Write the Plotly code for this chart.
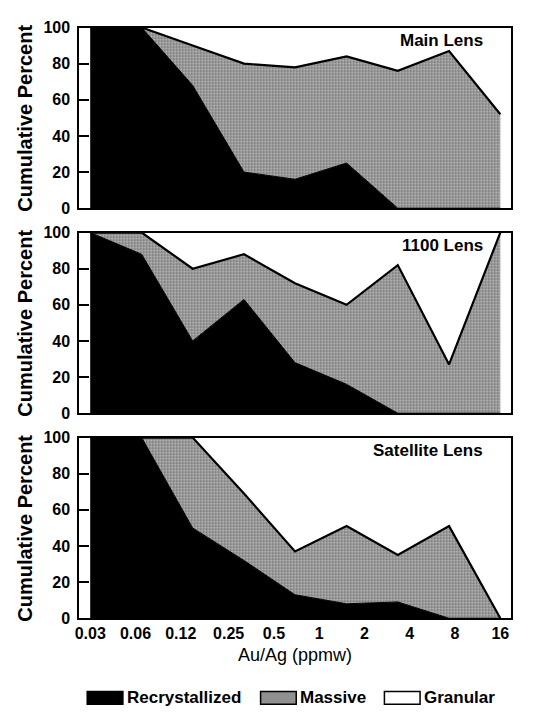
import math
import plotly.graph_objects as go

# ---------------- data ----------------
x_ratio = [0.03, 0.066, 0.144, 0.316, 0.69, 1.52, 3.33, 7.3, 16]   # Au/Ag (ppmw)

tick_vals = [0.03, 0.06, 0.12, 0.25, 0.5, 1, 2, 4, 8, 16]
tick_text = ["0.03", "0.06", "0.12", "0.25", "0.5", "1", "2", "4", "8", "16"]

panel_names = ["Main Lens", "1100 Lens", "Satellite Lens"]

# cumulative percent: Recrystallized (bottom) and Recrystallized+Massive (top)
main_recryst = [100, 100, 68, 20, 16, 25, 0, 0, 0]
main_massive_cum = [100, 100, 90, 80, 78, 84, 76, 87, 52]

l1100_recryst = [100, 88, 40, 63, 28, 16, 0, 0, 0]
l1100_massive_cum = [100, 100, 80, 88, 72, 60, 82, 27, 100]

sat_recryst = [100, 100, 50, 32, 13, 8, 9, 0, 0]
sat_massive_cum = [100, 100, 100, 69, 37, 51, 35, 51, 0]

recryst_sets = [main_recryst, l1100_recryst, sat_recryst]
massive_sets = [main_massive_cum, l1100_massive_cum, sat_massive_cum]

y_ticks = [0, 20, 40, 60, 80, 100]

# ---------------- layout geometry ----------------
W, H = 534, 719
FONT = "Liberation Sans"
box_left, box_right = 75, 511
panel_tops = [20, 230, 440]
panel_h = 185

fig = go.Figure()

pattern = dict(shape=".", fgcolor="#1e1e1e", bgcolor="#c4c4c4", size=3, solidity=0.5)

for i in range(3):
    xa = "x" if i == 0 else f"x{i+1}"
    ya = "y" if i == 0 else f"y{i+1}"
    fig.add_trace(go.Scatter(
        x=x_ratio, y=recryst_sets[i], xaxis=xa, yaxis=ya,
        mode="lines", line=dict(color="black", width=1),
        fill="tozeroy", fillcolor="black", showlegend=False, hoverinfo="skip"))
    fig.add_trace(go.Scatter(
        x=x_ratio, y=massive_sets[i], xaxis=xa, yaxis=ya,
        mode="lines", line=dict(color="black", width=2.2),
        fill="tonexty", fillcolor="#909090", fillpattern=pattern,
        showlegend=False, hoverinfo="skip"))

px_per_dec = (500 - 86) / (math.log10(16) - math.log10(0.03))
pad = 11 / px_per_dec
xrange = [math.log10(0.03) - pad, math.log10(16) + pad]

layout = dict(
    width=W, height=H, margin=dict(l=0, r=0, t=0, b=0),
    paper_bgcolor="white", plot_bgcolor="white", showlegend=False,
)
annotations = []
shapes = []
for i in range(3):
    top = panel_tops[i]
    bot = top + panel_h
    dom_y = [1 - bot / H, 1 - top / H]
    xk = "xaxis" if i == 0 else f"xaxis{i+1}"
    yk = "yaxis" if i == 0 else f"yaxis{i+1}"
    ya = "y" if i == 0 else f"y{i+1}"
    xa = "x" if i == 0 else f"x{i+1}"
    layout[xk] = dict(
        type="log", range=xrange, domain=[box_left / W, box_right / W],
        anchor=ya, showline=True, mirror=True, linecolor="black", linewidth=2,
        showgrid=False, zeroline=False, ticks="",
        tickvals=tick_vals, ticktext=tick_text,
        showticklabels=(i == 2),
        tickfont=dict(family=FONT, size=16, color="black", weight="bold"),
    )
    layout[yk] = dict(
        range=[0, 100], domain=dom_y, anchor=xa,
        showline=True, mirror=True, linecolor="black", linewidth=2,
        showgrid=False, zeroline=False, ticks="inside", ticklen=10,
        tickwidth=1.5, tickcolor="black", tickvals=y_ticks,
        ticklabelstandoff=4,
        tickfont=dict(family=FONT, size=16, color="black", weight="bold"),
    )
    annotations.append(dict(
        text=panel_names[i], xref="paper", x=485 / W, xanchor="right",
        yref=f"{ya} domain", y=1 - 13 / panel_h, yanchor="middle", showarrow=False,
        font=dict(family=FONT, size=17, color="black", weight="bold")))
    annotations.append(dict(
        text="Cumulative Percent", xref="paper", x=20 / W, xanchor="center",
        yref=f"{ya} domain", y=0.5, yanchor="middle", textangle=-90, showarrow=False,
        font=dict(family=FONT, size=20, color="black", weight="bold")))

annotations.append(dict(
    text="Au/Ag (ppmw)", xref="paper", x=(box_left + box_right) / 2 / W, xanchor="center",
    yref="paper", y=1 - 663 / H, yanchor="middle", showarrow=False,
    font=dict(family=FONT, size=18, color="black")))

# manual legend
leg_items = [("Recrystallized", "black", 83), ("Massive", "#909090", 258), ("Granular", "white", 383)]
ly0, ly1 = 1 - 713 / H, 1 - 700 / H
for name, col, xl in leg_items:
    shapes.append(dict(type="rect", xref="paper", yref="paper",
                       x0=xl / W, x1=(xl + 36) / W, y0=ly0, y1=ly1,
                       fillcolor=col, line=dict(color="black", width=1.5)))
    annotations.append(dict(
        text=name, xref="paper", x=(xl + 38) / W, xanchor="left",
        yref="paper", y=(ly0 + ly1) / 2, yanchor="middle", showarrow=False,
        font=dict(family=FONT, size=17, color="black", weight="bold")))

layout["annotations"] = annotations
layout["shapes"] = shapes
fig.update_layout(**layout)
fig.write_html("out.html")
